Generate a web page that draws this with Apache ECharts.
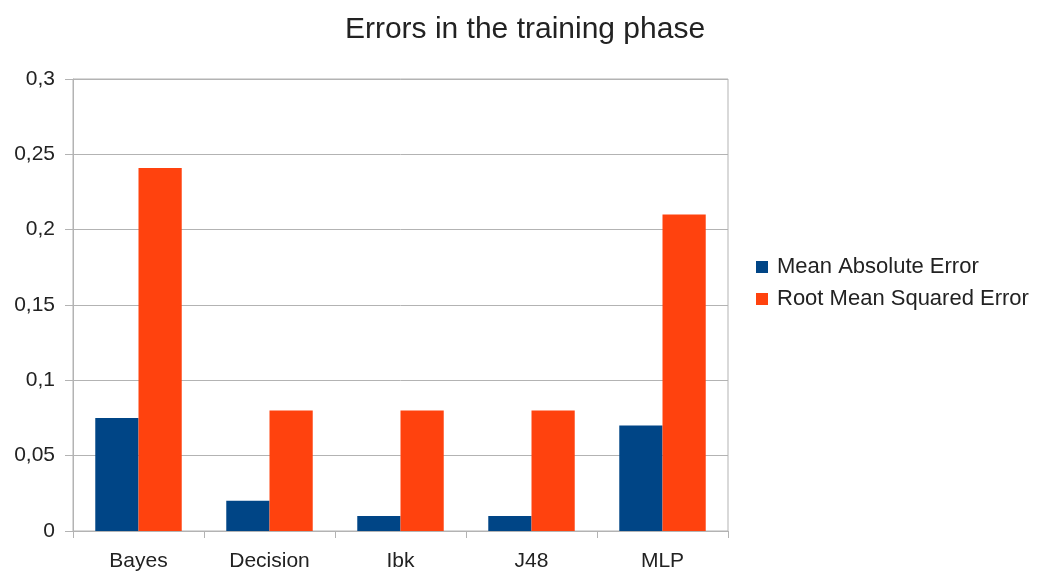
<!DOCTYPE html>
<html><head><meta charset="utf-8">
<script src="https://cdn.jsdelivr.net/npm/echarts@6/dist/echarts.min.js"></script>
<style>html,body{margin:0;padding:0;background:#fff}#c{width:1042px;height:574px}</style>
</head><body><div id="c"></div>
<script>
const categories = ['Bayes', 'Decision', 'Ibk', 'J48', 'MLP'];
const meanAbsoluteError = [0.075, 0.02, 0.01, 0.01, 0.07];
const rootMeanSquaredError = [0.241, 0.08, 0.08, 0.08, 0.21];
const yTickLabels = ['0', '0,05', '0,1', '0,15', '0,2', '0,25', '0,3'];

const chart = echarts.init(document.getElementById('c'));
const font = 'Liberation Sans, Arial, sans-serif';
chart.setOption({
  animation: false,
  title: {
    text: 'Errors in the training phase', left: 520, top: 10, textAlign: 'center',
    textStyle: { fontFamily: font, fontSize: 30, fontWeight: 'normal', color: '#222' }
  },
  legend: {
    orient: 'vertical', left: 751, top: 251, itemWidth: 12, itemHeight: 12, itemGap: 10,
    icon: 'rect',
    textStyle: { fontFamily: font, fontSize: 22, color: '#222', padding: [0, 0, 0, 4] },
    data: ['Mean Absolute Error', 'Root Mean Squared Error']
  },
  grid: { left: 73, right: 314, top: 79, bottom: 43, show: true, borderColor: '#b3b3b3', borderWidth: 1 },
  xAxis: {
    type: 'category', data: categories,
    axisLine: { lineStyle: { color: '#b3b3b3' } },
    axisTick: { show: true, length: 7, lineStyle: { color: '#b3b3b3' } },
    axisLabel: { fontFamily: font, fontSize: 21, color: '#222', margin: 20 }
  },
  yAxis: {
    type: 'value', min: 0, max: 0.3, interval: 0.05,
    axisLine: { show: true, lineStyle: { color: '#b3b3b3' } },
    axisTick: { show: true, length: 8, lineStyle: { color: '#b3b3b3' } },
    splitLine: { lineStyle: { color: '#b3b3b3' } },
    axisLabel: {
      fontFamily: font, fontSize: 21, color: '#222', margin: 18,
      formatter: (v) => yTickLabels[Math.round(v / 0.05)]
    }
  },
  series: [
    { name: 'Mean Absolute Error', type: 'bar', data: meanAbsoluteError, itemStyle: { color: '#004586' }, barGap: '0%', barCategoryGap: '34%' },
    { name: 'Root Mean Squared Error', type: 'bar', data: rootMeanSquaredError, itemStyle: { color: '#ff420e' }, barGap: '0%', barCategoryGap: '34%' }
  ]
});
</script></body></html>
